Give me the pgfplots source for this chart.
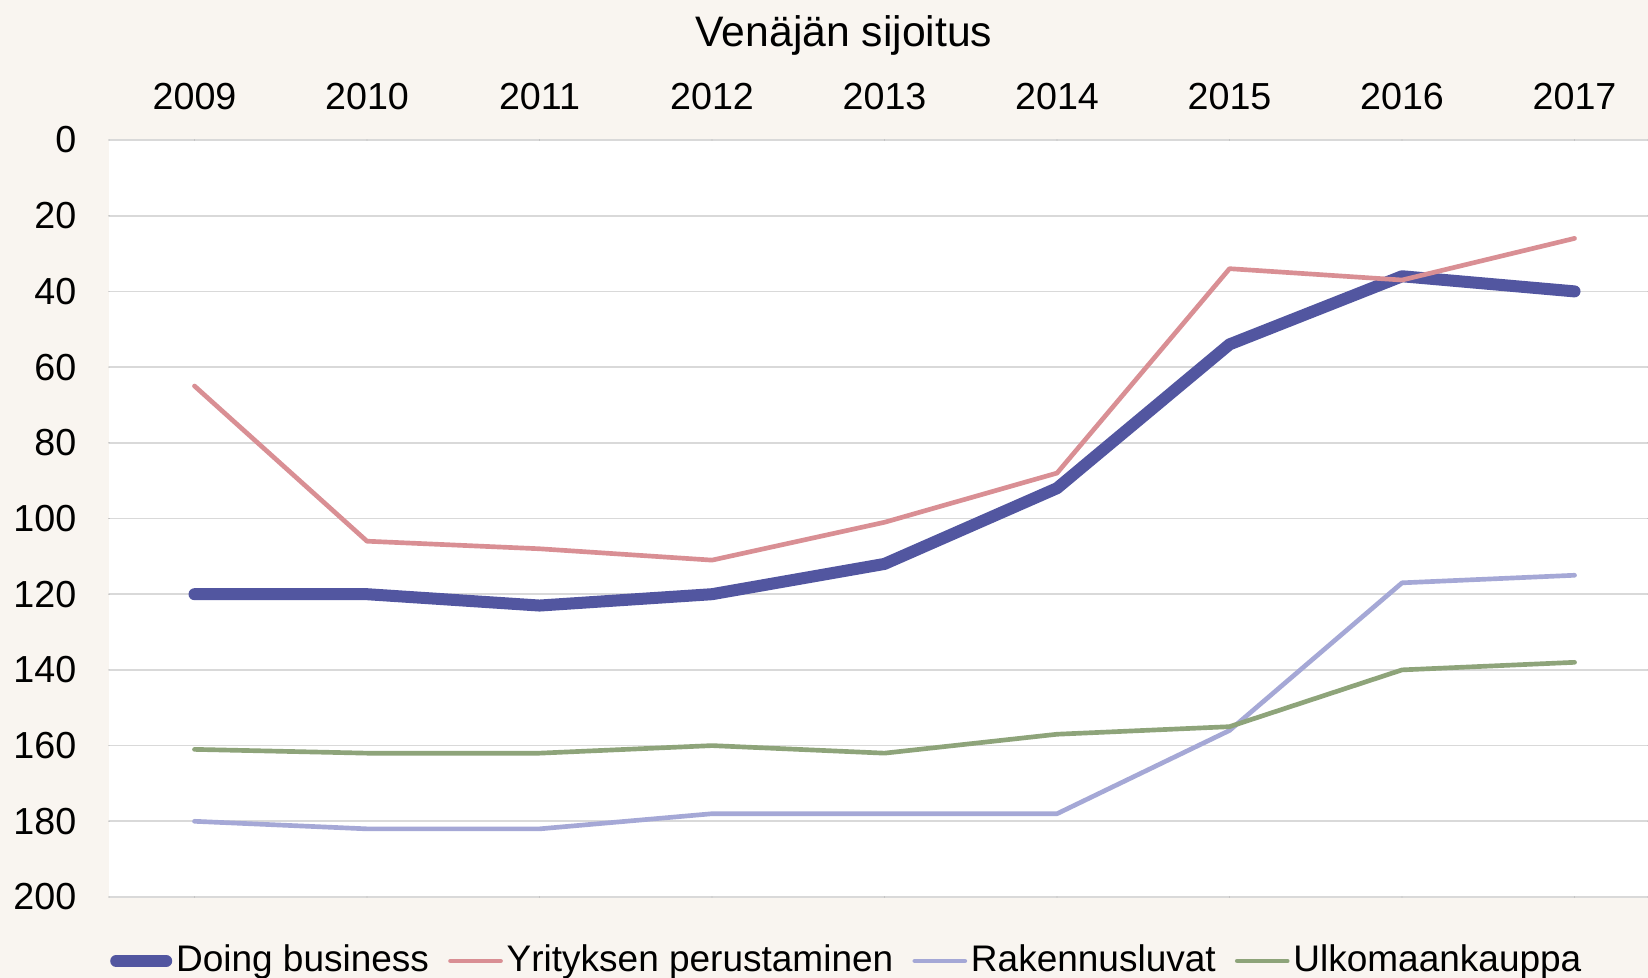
\documentclass[border=0pt]{standalone}
\usepackage{fontspec}
\setmainfont{Liberation Sans}
\usepackage{pgfplots}
\pgfplotsset{compat=1.18}

\definecolor{bgcream}{HTML}{F9F5F0}
\definecolor{gridgray}{HTML}{D9D9D9}
\definecolor{dbblue}{HTML}{5256A0}
\definecolor{yrpink}{HTML}{D98F94}
\definecolor{rklav}{HTML}{A5A8D6}
\definecolor{ulgreen}{HTML}{8EA47A}

\begin{document}
\begin{tikzpicture}
\path[use as bounding box, fill=bgcream] (0,0) rectangle (494.4pt,293.4pt);

\node[anchor=base, font=\fontsize{12.8}{15}\selectfont] at (253.2pt,279.3pt) {Venäjän sijoitus};

\begin{axis}[
  at={(32.7pt,24.3pt)}, anchor=south west,
  scale only axis, width=461.7pt, height=227.1pt,
  xmin=-0.4957, xmax=8.426,
  ymin=0, ymax=200, y dir=reverse,
  axis background/.style={fill=white},
  axis line style={draw=none},
  xtick={0,1,2,3,4,5,6,7,8},
  xticklabels={2009,2010,2011,2012,2013,2014,2015,2016,2017},
  xticklabel pos=upper,
  ytick={0,20,...,200},
  ymajorgrids,
  grid style={draw=gridgray, line width=0.5pt},
  major tick length=0pt,
  tick label style={font=\fontsize{11.3}{13}\selectfont},
  /pgf/number format/assume math mode=true,
  yticklabel style={anchor=east, inner sep=0pt, xshift=-9.6pt},
  xticklabel style={anchor=base, inner sep=0pt, yshift=9.15pt},
  legend columns=4,
  legend style={at={(0.48,-0.0845)}, anchor=center, draw=none, fill=none,
    font=\fontsize{11.1}{13}\selectfont,
    /tikz/every even column/.append style={column sep=4.6pt},
    nodes={inner xsep=1.15pt, inner ysep=1pt}},
  legend image code/.code={\draw[#1, line cap=round] (0pt,0pt) -- (15pt,0pt);},
  line cap=round, line join=round,
]
\addplot[dbblue, line width=3.6pt] coordinates {
  (0,120) (1,120) (2,123) (3,120) (4,112) (5,92) (6,54) (7,36) (8,40)};
\addlegendentry{Doing business}
\addplot[yrpink, line width=1.4pt] coordinates {
  (0,65) (1,106) (2,108) (3,111) (4,101) (5,88) (6,34) (7,37) (8,26)};
\addlegendentry{Yrityksen perustaminen}
\addplot[rklav, line width=1.4pt] coordinates {
  (0,180) (1,182) (2,182) (3,178) (4,178) (5,178) (6,156) (7,117) (8,115)};
\addlegendentry{Rakennusluvat}
\addplot[ulgreen, line width=1.4pt] coordinates {
  (0,161) (1,162) (2,162) (3,160) (4,162) (5,157) (6,155) (7,140) (8,138)};
\addlegendentry{Ulkomaankauppa}
\end{axis}
\end{tikzpicture}
\end{document}
